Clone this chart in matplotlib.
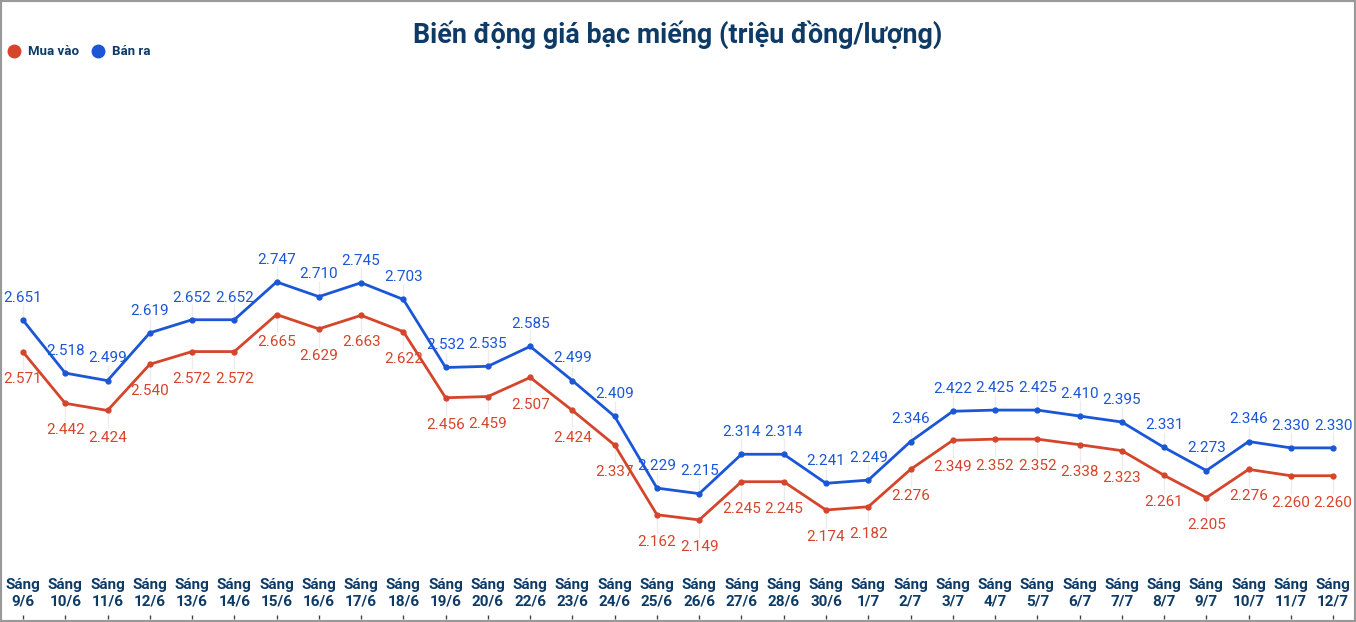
import matplotlib
matplotlib.use("Agg")
import matplotlib.pyplot as plt
from matplotlib.lines import Line2D
from matplotlib.patches import Rectangle

dates = ["9/6", "10/6", "11/6", "12/6", "13/6", "14/6", "15/6", "16/6", "17/6", "18/6",
         "19/6", "20/6", "22/6", "23/6", "24/6", "25/6", "26/6", "27/6", "28/6", "30/6",
         "1/7", "2/7", "3/7", "4/7", "5/7", "6/7", "7/7", "8/7", "9/7", "10/7", "11/7", "12/7"]
ban_ra = [2.651, 2.518, 2.499, 2.619, 2.652, 2.652, 2.747, 2.710, 2.745, 2.703,
          2.532, 2.535, 2.585, 2.499, 2.409, 2.229, 2.215, 2.314, 2.314, 2.241,
          2.249, 2.346, 2.422, 2.425, 2.425, 2.410, 2.395, 2.331, 2.273, 2.346, 2.330, 2.330]
mua_vao = [2.571, 2.442, 2.424, 2.540, 2.572, 2.572, 2.665, 2.629, 2.663, 2.622,
           2.456, 2.459, 2.507, 2.424, 2.337, 2.162, 2.149, 2.245, 2.245, 2.174,
           2.182, 2.276, 2.349, 2.352, 2.352, 2.338, 2.323, 2.261, 2.205, 2.276, 2.260, 2.260]

RED = "#d4452b"
BLUE = "#1a56d6"
NAVY = "#0e3a66"

plt.rcParams["font.family"] = ["Roboto", "DejaVu Sans"]

fig = plt.figure(figsize=(13.56, 6.22), dpi=100)
ax = fig.add_axes([0, 0.0048, 1, 0.8955])
x = list(range(len(dates)))

# faint leader lines from points to labels
ax.vlines(x, ban_ra, [v + 0.04 for v in ban_ra], color="#ececec", lw=1, zorder=1)
ax.vlines(x, mua_vao, [v - 0.045 for v in mua_vao], color="#ececec", lw=1, zorder=1)

ax.plot(x, ban_ra, color=BLUE, lw=2, marker="o", ms=3.5, zorder=3)
ax.plot(x, mua_vao, color=RED, lw=2, marker="o", ms=3.5, zorder=3)

for i in x:
    ax.annotate(f"{ban_ra[i]:.3f}", (i, ban_ra[i]), xytext=(0, 16), textcoords="offset points",
                ha="center", va="center", color=BLUE, fontsize=11)
    ax.annotate(f"{mua_vao[i]:.3f}", (i, mua_vao[i]), xytext=(0, -19.5), textcoords="offset points",
                ha="center", va="center", color=RED, fontsize=11)

ax.set_xlim(-0.544, 31.54)
ax.set_ylim(1.9, 3.2996)
ax.set_xticks(x)
ax.set_xticklabels([f"Sáng\n{d}" for d in dates], fontsize=11, fontweight="bold", color=NAVY,
                   linespacing=1.25)
ax.tick_params(axis="x", direction="in", length=3, width=1, color="#444444", pad=-29.5)
ax.set_yticks([])
for s in ax.spines.values():
    s.set_visible(False)

fig.text(0.5, 0.944, "Biến động giá bạc miếng (triệu đồng/lượng)", ha="center", va="center",
         fontsize=19.4, fontweight="bold", color=NAVY)

handles = [Line2D([], [], ls="", marker="o", ms=9, color=RED, label="Mua vào"),
           Line2D([], [], ls="", marker="o", ms=9, color=BLUE, label="Bán ra")]
leg = fig.legend(handles=handles, loc="center left", bbox_to_anchor=(-0.003, 0.917), ncol=2,
                 frameon=False, handletextpad=0.5, columnspacing=1.0, handlelength=1,
                 prop={"weight": "bold", "size": 9.5})
for t in leg.get_texts():
    t.set_color(NAVY)

fig.patches.append(Rectangle((0, 0), 1, 1, transform=fig.transFigure, fill=False,
                             edgecolor="#999999", lw=3, zorder=10))

fig.savefig("out.png", dpi=100)
